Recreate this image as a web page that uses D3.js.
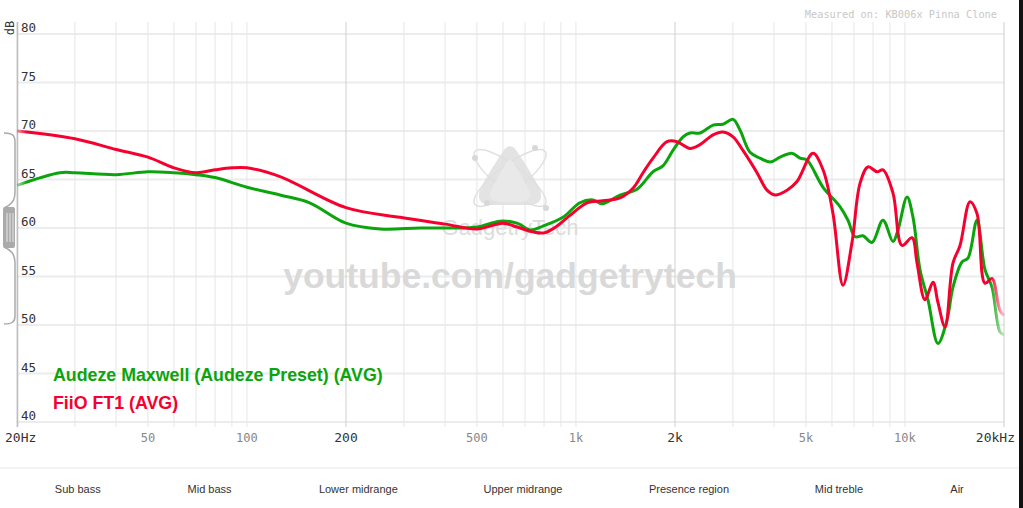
<!DOCTYPE html>
<html>
<head>
<meta charset="utf-8">
<script src="https://cdn.jsdelivr.net/npm/d3@7"></script>
<style>
  body { margin: 0; background: #fff; }
  svg { display: block; }
</style>
</head>
<body>
<div id="chart"></div>
<script>
// frequency response data (Hz, dB)
var maxwellFreq = [20, 27, 30, 40, 50, 60, 70, 80, 100, 126, 155, 200, 254, 336, 423, 500, 588, 662, 725, 794, 913, 1028, 1126, 1200, 1361, 1533, 1715, 1838, 1972, 2116, 2222, 2382, 2610, 2798, 3002, 3152, 3381, 3627, 3891, 4171, 4536, 4799, 5038, 5636, 6346, 6711, 7050, 7457, 7937, 8575, 9197, 9526, 10146, 10580, 11110, 11750, 12602, 13420, 13996, 14906, 15546, 16554, 17508, 18388, 19446, 20000];
var maxwellDb = [64.4, 65.7, 65.7, 65.5, 65.8, 65.7, 65.5, 65.2, 64.2, 63.4, 62.6, 60.5, 59.9, 60.0, 60.0, 60.1, 60.7, 60.5, 59.8, 60.2, 61.1, 62.6, 62.9, 62.5, 63.4, 64.0, 65.8, 66.4, 68.0, 69.4, 69.8, 69.8, 70.6, 70.7, 71.2, 70.1, 67.8, 67.2, 66.8, 67.3, 67.7, 67.2, 67.0, 64.2, 62.2, 60.8, 59.1, 59.2, 58.5, 60.8, 58.6, 59.8, 63.2, 61.1, 55.7, 52.6, 48.1, 50.5, 53.9, 56.5, 56.9, 60.8, 55.7, 53.9, 49.3, 49.0];

var ft1Freq = [20, 30, 40, 50, 60, 70, 80, 90, 100, 126, 200, 292, 400, 500, 600, 662, 740, 800, 876, 959, 1080, 1208, 1361, 1490, 1599, 1715, 1891, 2028, 2222, 2382, 2610, 2798, 3002, 3218, 3551, 3808, 4027, 4380, 4697, 5254, 5636, 6042, 6481, 6902, 7302, 7722, 8222, 8575, 9197, 9795, 10507, 10880, 11506, 12168, 12602, 13236, 13996, 14702, 15764, 16554, 17508, 18388, 19446, 20000];
var ft1Db = [70.0, 69.2, 68.1, 67.3, 66.2, 65.7, 66.0, 66.2, 66.2, 65.3, 62.1, 61.1, 60.4, 59.9, 60.5, 60.1, 59.6, 59.5, 60.2, 61.3, 62.6, 62.8, 63.1, 64.1, 65.7, 67.2, 68.9, 68.9, 68.2, 68.6, 69.6, 69.9, 69.4, 68.0, 65.7, 63.9, 63.4, 63.9, 64.8, 67.7, 66.0, 61.5, 54.1, 58.5, 64.6, 66.3, 65.8, 66.0, 63.6, 58.2, 59.0, 56.4, 52.6, 54.4, 52.3, 49.8, 56.4, 58.2, 62.7, 61.5, 54.3, 54.8, 51.5, 51.0];

var seriesNames = ["Audeze Maxwell (Audeze Preset) (AVG)", "FiiO FT1 (AVG)"];
var seriesColors = ["#0ca40c", "#f5002f"];

var yTicks = [40, 45, 50, 55, 60, 65, 70, 75, 80];
var xGrid = [20, 30, 40, 50, 60, 70, 80, 90, 100, 200, 300, 400, 500, 600, 700, 800, 900, 1000,
             2000, 3000, 4000, 5000, 6000, 7000, 8000, 9000, 10000, 20000];
var xLabels = [[50, "50"], [100, "100"], [200, "200"], [500, "500"], [1000, "1k"], [2000, "2k"], [5000, "5k"], [10000, "10k"]];
var bandNames = ["Sub bass", "Mid bass", "Lower midrange", "Upper midrange", "Presence region", "Mid treble", "Air"];
var bandCenters = [30.6, 77, 218, 690, 2206, 6300, 14400];

var W = 1023, H = 508;
var svg = d3.select("#chart").append("svg")
    .attr("width", W)
    .attr("height", H);

var x = d3.scaleLog().domain([20, 20000]).range([17, 1004]);
var y = d3.scaleLinear().domain([40, 80]).range([422, 34]);

var mono = "DejaVu Sans Mono, monospace";
var sans = "Liberation Sans, Arial, sans-serif";

// grid
svg.append("g")
    .selectAll("line")
    .data(yTicks)
    .enter()
    .append("line")
    .attr("x1", 17).attr("x2", 1004)
    .attr("y1", function(d) { return y(d); })
    .attr("y2", function(d) { return y(d); })
    .attr("stroke", "#ececec")
    .attr("stroke-width", 2);

svg.append("g")
    .selectAll("line")
    .data(xGrid)
    .enter()
    .append("line")
    .attr("x1", function(d) { return x(d); })
    .attr("x2", function(d) { return x(d); })
    .attr("y1", 22).attr("y2", 427)
    .attr("stroke", function(d) { return (d == 200 || d == 2000 || d == 20000) ? "#cfcfcf" : "#e6e6e6"; })
    .attr("stroke-width", 1);

// left axis line
svg.append("line")
    .attr("x1", 17.5).attr("x2", 17.5)
    .attr("y1", 22).attr("y2", 427)
    .attr("stroke", "#bdbdbd")
    .attr("stroke-width", 1.5);

// y labels
svg.append("g")
    .selectAll("text")
    .data(yTicks)
    .enter()
    .append("text")
    .attr("x", 21)
    .attr("y", function(d) { return y(d) - 2; })
    .style("font-family", mono)
    .style("font-size", "12.5px")
    .style("fill", "#333")
    .text(function(d) { return d; });

svg.append("text")
    .attr("transform", "translate(14,28) rotate(-90)")
    .attr("text-anchor", "middle")
    .style("font-family", mono)
    .style("font-size", "12px")
    .style("fill", "#333")
    .text("dB");

// x labels
svg.append("g")
    .selectAll("text")
    .data(xLabels)
    .enter()
    .append("text")
    .attr("x", function(d) { return x(d[0]); })
    .attr("y", 442)
    .attr("text-anchor", "middle")
    .style("font-family", mono)
    .style("font-size", function(d) { return (d[0] == 200 || d[0] == 2000) ? "13px" : "12px"; })
    .style("fill", function(d) { return (d[0] == 200 || d[0] == 2000) ? "#333" : "#888"; })
    .text(function(d) { return d[1]; });

svg.append("text")
    .attr("x", 5).attr("y", 442)
    .style("font-family", mono).style("font-size", "13px").style("fill", "#333")
    .text("20Hz");
svg.append("text")
    .attr("x", 1015).attr("y", 442)
    .attr("text-anchor", "end")
    .style("font-family", mono).style("font-size", "13px").style("fill", "#333")
    .text("20kHz");

svg.append("text")
    .attr("x", 997).attr("y", 18)
    .attr("text-anchor", "end")
    .style("font-family", mono).style("font-size", "10.3px").style("fill", "#c8c8c8")
    .text("Measured on: KB006x Pinna Clone");

// watermark logo
var logo = svg.append("g").attr("transform", "translate(510,178)");
logo.append("ellipse").attr("rx", 44).attr("ry", 13).attr("transform", "rotate(37)")
    .attr("fill", "none").attr("stroke", "#e0e0e0").attr("stroke-width", 1.5);
logo.append("ellipse").attr("rx", 44).attr("ry", 13).attr("transform", "rotate(-37)")
    .attr("fill", "none").attr("stroke", "#e0e0e0").attr("stroke-width", 1.5);
logo.append("path")
    .attr("d", "M-6,-28 C-2,-33 2,-33 6,-28 C14,-16 30,8 31,16 C32,24 26,27 18,27 L-18,27 C-26,27 -32,24 -31,16 C-30,8 -14,-16 -6,-28 Z")
    .attr("fill", "#dedede").attr("fill-opacity", 0.85);
logo.append("path")
    .attr("d", "M-3,-16 C-1,-19 1,-19 3,-16 C9,-6 20,12 20,17 C20,22 15,24 10,24 L-10,24 C-15,24 -20,22 -20,17 C-20,12 -9,-6 -3,-16 Z")
    .attr("fill", "#e9e9e9");
[[-35, -20], [25, -30], [-23, 25], [36, 30]].forEach(function(p) {
    logo.append("circle").attr("cx", p[0]).attr("cy", p[1]).attr("r", 3).attr("fill", "#d8d8d8");
});
svg.append("text")
    .attr("x", 510).attr("y", 235)
    .attr("text-anchor", "middle")
    .style("font-family", sans).style("font-size", "22px").style("fill", "#dcdcdc")
    .text("GadgetryTech");

svg.append("text")
    .attr("x", 510).attr("y", 288)
    .attr("text-anchor", "middle")
    .style("font-family", sans).style("font-weight", "bold").style("font-size", "35.5px")
    .style("fill", "#d9d9d9")
    .text("youtube.com/gadgetrytech");

// fade at the ends
var defs = svg.append("defs");
seriesColors.forEach(function(c, i) {
    var g = defs.append("linearGradient")
        .attr("id", "fade" + i)
        .attr("gradientUnits", "userSpaceOnUse")
        .attr("x1", 17).attr("x2", 1004).attr("y1", 0).attr("y2", 0);
    g.append("stop").attr("offset", "0%").attr("stop-color", c).attr("stop-opacity", 0.35);
    g.append("stop").attr("offset", "1%").attr("stop-color", c).attr("stop-opacity", 1);
    g.append("stop").attr("offset", "98.6%").attr("stop-color", c).attr("stop-opacity", 1);
    g.append("stop").attr("offset", "100%").attr("stop-color", c).attr("stop-opacity", 0.2);
});

var line = d3.line()
    .x(function(d) { return x(d[0]); })
    .y(function(d) { return y(d[1]); })
    .curve(d3.curveCatmullRom.alpha(0.5));

var series = [d3.zip(maxwellFreq, maxwellDb), d3.zip(ft1Freq, ft1Db)];

svg.append("g")
    .selectAll("path")
    .data(series)
    .enter()
    .append("path")
    .attr("d", line)
    .attr("fill", "none")
    .attr("stroke", function(d, i) { return "url(#fade" + i + ")"; })
    .attr("stroke-width", 3)
    .attr("stroke-linejoin", "round");

// legend
svg.append("g")
    .selectAll("text")
    .data(seriesNames)
    .enter()
    .append("text")
    .attr("x", 53)
    .attr("y", function(d, i) { return 381 + i * 28; })
    .style("font-family", sans)
    .style("font-weight", "bold")
    .style("font-size", "17.8px")
    .style("fill", function(d, i) { return seriesColors[i]; })
    .text(function(d) { return d; });

// left bracket handle
svg.append("path")
    .attr("d", "M4,133 C12,133 15,135 15,142 L15,192 C15,201 11,205 4,208 M4,247 C11,250 15,254 15,263 L15,316 C15,322 12,324 4,324")
    .attr("fill", "none").attr("stroke", "#aaa").attr("stroke-width", 1.5);
svg.append("rect")
    .attr("x", 3).attr("y", 207).attr("width", 12).attr("height", 41).attr("rx", 2)
    .attr("fill", "#aaa");
[7, 10, 13].forEach(function(px) {
    svg.append("line").attr("x1", px).attr("x2", px).attr("y1", 213).attr("y2", 242)
        .attr("stroke", "#e8e8e8").attr("stroke-width", 1);
});

// band strip
svg.append("line")
    .attr("x1", 0).attr("x2", 1019)
    .attr("y1", 468).attr("y2", 468)
    .attr("stroke", "#e8e8e8");

svg.append("g")
    .selectAll("text")
    .data(bandNames)
    .enter()
    .append("text")
    .attr("x", function(d, i) { return x(bandCenters[i]); })
    .attr("y", 493)
    .attr("text-anchor", "middle")
    .style("font-family", sans)
    .style("font-size", "11px")
    .style("fill", "#333")
    .text(function(d) { return d; });

// dark strip on the right edge
svg.append("rect")
    .attr("x", 1019).attr("y", 0).attr("width", 4).attr("height", H)
    .attr("fill", "#111");
</script>
</body>
</html>
